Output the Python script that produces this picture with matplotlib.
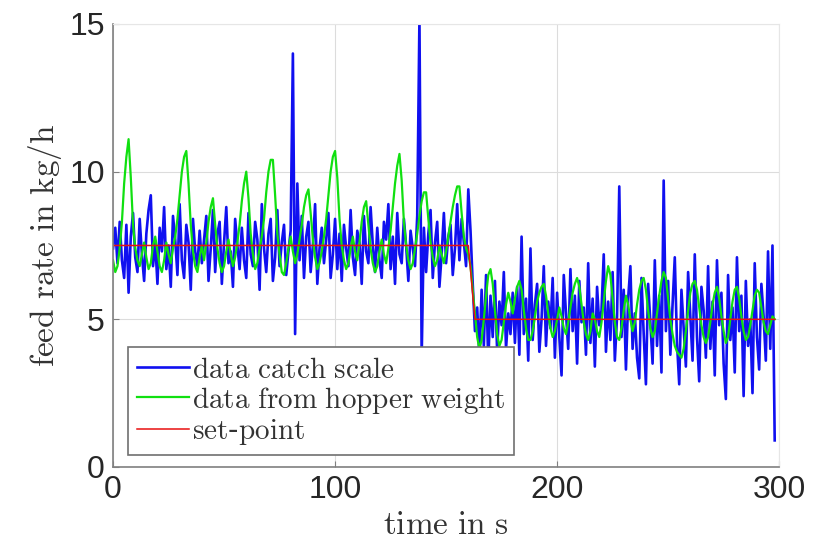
import numpy as np
import matplotlib
matplotlib.use("Agg")
import matplotlib.pyplot as plt

# time axis in s (1 sample per second)
time_s = list(range(0, 299))

# catch scale measurement, kg/h
catch_scale = [
    7.4, 8.1, 6.9, 8.3, 7.0, 6.4, 8.2, 5.9, 7.8, 8.6, 7.1, 6.6, 8.4, 7.2, 6.3, 7.9, 8.7, 9.2, 6.8, 7.6,
    6.2, 8.1, 7.3, 8.8, 6.7, 7.5, 6.1, 8.5, 7.7, 6.5, 8.9, 7.0, 6.4, 8.2, 7.6, 6.0, 8.4, 7.3, 6.8, 8.0,
    6.9, 7.7, 8.5, 6.3, 7.4, 8.7, 6.6, 7.9, 8.3, 6.2, 7.6, 8.8, 6.9, 7.3, 6.1, 8.4, 7.5, 6.7, 8.1, 7.0,
    6.4, 8.6, 7.2, 6.8, 8.3, 7.7, 6.0, 8.9, 7.4, 6.6, 7.9, 8.4, 6.3, 7.1, 8.7, 6.8, 7.6, 8.2, 6.5, 7.3,
    8.0, 14.0, 4.5, 9.6, 7.0, 8.5, 6.4, 7.8, 8.3, 6.6, 7.5, 8.9, 6.2, 7.4, 8.1, 6.9, 7.7, 8.6, 6.4, 7.2,
    8.4, 6.7, 7.9, 6.3, 8.2, 7.4, 6.8, 8.7, 7.1, 6.5, 8.0, 7.6, 6.2, 8.5, 7.3, 6.9, 8.8, 7.5, 6.6, 8.1,
    7.0, 6.4, 8.3, 7.7, 8.9, 6.7, 7.8, 6.2, 8.6, 7.2, 6.9, 8.4, 7.5, 6.3, 8.0, 7.4, 6.8, 8.5, 15.2, 3.7,
    8.1, 6.6, 7.9, 8.7, 6.4, 7.6, 8.3, 6.1, 7.2, 8.6, 6.9, 7.8, 8.2, 6.5, 7.4, 8.9, 7.0, 8.4, 7.6, 6.8,
    9.4, 8.0,
    6.2, 4.6, 5.4, 3.7, 6.0, 4.1, 6.5, 3.5, 5.8, 4.4, 6.3, 3.9, 5.6, 4.8, 6.6, 4.0, 5.2, 4.5,
    5.9, 4.2, 6.1, 3.8, 7.8, 4.5, 5.7, 3.6, 7.4, 4.3, 5.5, 6.2, 3.9, 5.0, 6.8, 4.1, 5.6, 4.7, 6.4, 3.7,
    5.9, 4.4, 3.1, 6.5, 5.2, 4.0, 6.7, 4.6, 5.8, 3.5, 6.3, 4.9, 5.4, 3.8, 6.9, 4.2, 5.7, 3.4, 6.1, 4.8,
    5.3, 7.2, 3.9, 5.6, 4.3, 6.6, 3.6, 5.1, 9.5, 4.4, 6.0, 3.3, 5.7, 6.8, 4.0, 5.2, 3.7, 3.0, 6.4, 4.5,
    2.8, 6.2, 4.9, 3.5, 7.0, 4.1, 5.8, 3.2, 9.7, 4.6, 6.3, 3.8, 5.5, 7.1, 4.2, 2.8, 6.0, 4.7, 3.4, 6.6,
    5.1, 3.6, 7.2, 4.4, 2.9, 6.1, 5.3, 3.7, 6.8, 4.0, 5.6, 3.1, 7.0, 4.8, 5.9, 3.5, 2.3, 6.5, 4.3, 5.4,
    3.2, 7.1, 4.6, 5.8, 2.4, 6.3, 4.1, 5.0, 2.5, 6.9, 4.4, 3.3, 6.2, 5.1, 3.6, 7.3, 4.0, 7.5, 0.9,
]

# feed rate derived from hopper weight, kg/h
hopper_weight = [
    7.0, 6.6, 6.8, 7.4, 8.3, 9.6, 10.5, 11.1, 9.8, 8.2, 7.4, 7.0, 6.8, 7.2, 7.6, 7.1, 6.7, 6.9, 7.5, 7.8,
    7.3, 6.8, 6.6, 7.0, 7.6, 7.2, 6.9, 7.4, 7.8, 8.4, 9.2, 10.0, 10.5, 10.7, 9.6, 8.2, 7.3, 6.8, 6.6, 7.1,
    7.5, 7.0, 7.6, 8.3, 8.8, 9.1, 8.2, 7.4, 6.9, 6.6, 6.8, 7.3, 7.7, 7.2, 6.8, 7.1, 7.6, 8.2, 9.0, 9.6,
    10.0, 9.1, 7.9, 7.2, 6.7, 6.9, 7.4, 7.8, 8.4, 9.3, 10.0, 10.4, 10.4, 9.2, 7.9, 7.2, 6.6, 6.5, 6.9, 7.4,
    7.8, 7.3, 6.9, 7.2, 7.7, 8.2, 8.8, 9.2, 9.4, 8.6, 7.7, 7.1, 6.7, 6.9, 7.3, 7.8, 8.4, 9.2, 10.0, 10.5,
    10.7, 9.8, 8.4, 7.5, 7.0, 6.7, 6.9, 7.4, 7.8, 7.3, 7.0, 7.6, 8.3, 8.8, 9.0, 8.2, 7.4, 6.9, 6.6, 6.8,
    7.3, 7.7, 7.2, 6.9, 7.4, 8.0, 8.8, 9.6, 10.2, 10.6, 9.7, 8.3, 7.5, 7.0, 6.7, 6.9, 7.4, 7.9, 8.5, 9.0,
    9.3, 9.3, 8.4, 7.6, 7.1, 6.8, 7.0, 7.5, 7.2, 6.9, 7.3, 7.8, 8.3, 8.8, 9.2, 9.5, 9.5, 8.6, 7.8, 7.4,
    7.2, 6.8,
    6.0, 5.2, 4.4, 4.0, 4.3, 5.0, 5.8, 6.5, 6.7, 6.2, 5.3, 4.5, 4.1, 4.3, 4.9, 5.5, 5.9, 5.6,
    5.2, 5.7, 6.1, 6.3, 6.0, 5.3, 4.7, 4.3, 4.3, 4.6, 5.1, 5.6, 5.9, 6.1, 6.2, 5.8, 5.2, 4.7, 4.4, 4.6,
    5.0, 5.4, 5.1, 4.7, 4.5, 4.9, 5.4, 5.9, 6.2, 6.4, 6.1, 5.5, 4.9, 4.5, 4.3, 4.6, 5.2, 5.0, 4.6, 4.4,
    4.9, 5.6, 6.3, 6.8, 6.5, 5.7, 4.9, 4.4, 4.3, 4.7, 5.3, 5.8, 5.5, 5.0, 4.6, 4.9, 5.5, 6.0, 6.3, 6.4,
    6.0, 5.3, 4.7, 4.4, 4.6, 5.2, 5.8, 6.3, 6.6, 6.4, 5.7, 5.0, 4.5, 4.1, 3.9, 3.8, 3.7, 4.0, 4.6, 5.3,
    5.9, 6.2, 6.3, 6.0, 5.4, 4.8, 4.4, 4.2, 4.4, 4.9, 5.5, 5.9, 6.1, 5.7, 5.1, 4.6, 4.2, 4.4, 5.0, 5.6,
    6.0, 6.1, 5.7, 5.1, 4.6, 4.3, 4.4, 4.8, 5.3, 5.8, 6.0, 5.9, 5.4, 4.9, 4.6, 4.5, 4.8, 5.1, 5.0,
]

# set-point profile
sp_time = [0, 160, 163, 298]
sp_value = [7.5, 7.5, 5.0, 5.0]

plt.rcParams['mathtext.fontset'] = 'cm'

fig = plt.figure(figsize=(8.15, 5.55), dpi=100)
ax = fig.add_axes([0.1387, 0.1586, 0.8173, 0.7982])

ax.plot(time_s, catch_scale, color='#1010f0', lw=1.9, label=r'$\mathrm{data\ catch\ scale}$')
ax.plot(time_s, hopper_weight, color='#10e010', lw=1.6, label=r'$\mathrm{data\ from\ hopper\ weight}$')
ax.plot(sp_time, sp_value, color='#e81010', lw=1.1, label=r'$\mathrm{set}$-$\mathrm{point}$')

ax.set_xlim(0, 300)
ax.set_ylim(0, 15)
ax.set_xticks([0, 100, 200, 300])
ax.set_yticks([0, 5, 10, 15])
ax.grid(True, color='#dcdcdc', lw=0.8)
ax.set_axisbelow(True)

for side in ['top', 'right']:
    ax.spines[side].set_color('#e6e6e6')
for side in ['left', 'bottom']:
    ax.spines[side].set_color('#808080')
    ax.spines[side].set_linewidth(1.2)

ax.tick_params(direction='in', length=4, color='#808080', labelsize=23,
               labelcolor='#262626', pad=6)
for lab in ax.get_xticklabels() + ax.get_yticklabels():
    lab.set_family('Liberation Sans')

ax.set_xlabel(r'$\mathrm{time\ in\ s}$', fontsize=24, color='#333333', labelpad=2)
ax.set_ylabel(r'$\mathrm{feed\ rate\ in\ kg/h}$', fontsize=24, color='#333333', labelpad=4)

leg = ax.legend(loc='lower left', bbox_to_anchor=(0.023, 0.027), fontsize=21,
                frameon=True, fancybox=False, framealpha=1, edgecolor='#707070',
                handlelength=1.8, handletextpad=0.1, borderpad=0.28, labelspacing=0.04,
                borderaxespad=0)
leg.get_frame().set_linewidth(1.2)
for t in leg.get_texts():
    t.set_color('#333333')

fig.savefig('out.png', dpi=100)
